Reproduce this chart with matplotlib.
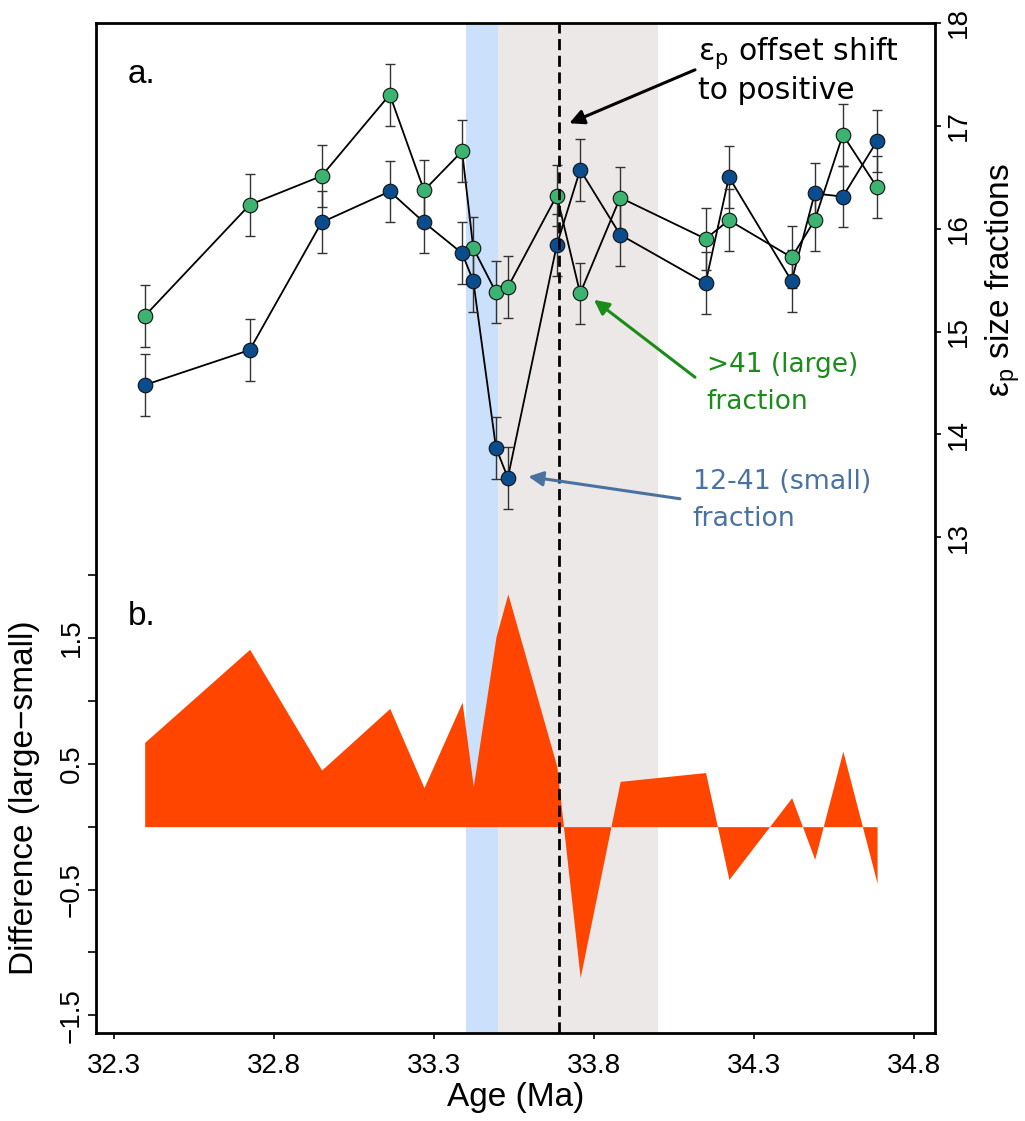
import matplotlib.pyplot as plt
import numpy as np

plt.rcParams['font.family'] = ['Liberation Sans', 'DejaVu Sans']
plt.rcParams['mathtext.fontset'] = 'custom'
plt.rcParams['mathtext.rm'] = 'Liberation Sans'

# sample ages (Ma) and epsilon_p of the two size fractions
age = [32.395, 32.723, 32.948, 33.161, 33.268, 33.387, 33.422, 33.493, 33.530,
       33.683, 33.756, 33.881, 34.148, 34.221, 34.417, 34.489, 34.577, 34.684]
eps_large = [15.15, 16.23, 16.51, 17.30, 16.37, 16.75, 15.81, 15.38, 15.43,
             16.32, 15.37, 16.30, 15.90, 16.08, 15.72, 16.08, 16.91, 16.40]
eps_small = [14.48, 14.82, 16.06, 16.36, 16.06, 15.76, 15.49, 13.87, 13.58,
             15.84, 16.57, 15.94, 15.47, 16.50, 15.49, 16.34, 16.31, 16.85]
eps_err = 0.3

# shaded intervals and the offset shift
blue_band = (33.4, 33.5)
grey_band = (33.5, 34.0)
shift_age = 33.69

xticks = [32.3, 32.8, 33.3, 33.8, 34.3, 34.8]
xticklabels = ['32.3', '32.8', '33.3', '33.8', '34.3', '34.8']
diff_ticks = [-1.5, -1.0, -0.5, 0.0, 0.5, 1.0, 1.5, 2.0]
diff_labels = ['\u22121.5', '', '\u22120.5', '', '0.5', '', '1.5', '']
eps_ticks = [13, 14, 15, 16, 17, 18]
eps_labels = ['13', '14', '15', '16', '17', '18']

green = '#3cb371'
navy = '#0b4c8c'
txt_green = '#1a8c1a'
txt_blue = '#4a72a0'

diff = np.array(eps_large) - np.array(eps_small)

fig = plt.figure(figsize=(10.25, 11.21), dpi=100)
ax = fig.add_axes([0.0934, 0.0788, 0.8191, 0.9011])
ax2 = ax.twinx()

ax.axvspan(*blue_band, color='#cae0fb', lw=0, zorder=0)
ax.axvspan(*grey_band, color='#ece8e7', lw=0, zorder=0)
ax.fill_between(age, 0, diff, color='#ff4500', lw=0, zorder=1)

ax.set_xlim(32.242, 34.866)
ax.set_ylim(-1.638, 6.393)
ax2.set_ylim(8.192, 17.995)

# panel a: the two fractions
for vals, col in [(eps_large, green), (eps_small, navy)]:
    ax2.plot(age, vals, color='black', lw=1.3, zorder=2)
    ax2.errorbar(age, vals, yerr=eps_err, fmt='none', ecolor='#333333',
                 elinewidth=1.0, capsize=3.5, capthick=1.0, zorder=2.5)
    ax2.plot(age, vals, 'o', ms=10.5, mfc=col, mec='#111111', mew=0.8, zorder=3)

ax2.axvline(shift_age, color='black', lw=2.0, ls=(0, (4, 2)), zorder=4)

ax2.text(32.343, 17.41, 'a.', fontsize=24, va='baseline')
ax.text(32.343, 1.603, 'b.', fontsize=24, va='baseline')

ann = dict(family='DejaVu Sans', ha='left', va='top')
ax2.annotate('', xy=(33.722, 17.022), xytext=(34.115, 17.541),
             arrowprops=dict(arrowstyle='-|>', color='black', lw=2.2,
                             mutation_scale=22, shrinkA=0, shrinkB=0), zorder=5)
ax2.text(34.125, 17.874, 'ε$_\\mathregular{p}$ offset shift\nto positive',
         color='black', fontsize=21.5, linespacing=1.2, **ann)

ax2.annotate('', xy=(33.799, 15.308), xytext=(34.115, 14.556),
             arrowprops=dict(arrowstyle='-|>', color=txt_green, lw=2.2,
                             mutation_scale=22, shrinkA=0, shrinkB=0), zorder=5)
ax2.text(34.152, 14.80, '>41 (large)\nfraction', color=txt_green,
         fontsize=19, linespacing=1.56, **ann)

ax2.annotate('', xy=(33.594, 13.592), xytext=(34.068, 13.376),
             arrowprops=dict(arrowstyle='-|>', color=txt_blue, lw=2.2,
                             mutation_scale=22, shrinkA=0, shrinkB=0), zorder=5)
ax2.text(34.108, 13.665, '12-41 (small)\nfraction', color=txt_blue,
         fontsize=19.3, linespacing=1.56, **ann)

# axes, ticks and labels
for sp in ax.spines.values():
    sp.set_linewidth(2.0)
for sp in ax2.spines.values():
    sp.set_visible(False)

ax.set_xticks(xticks)
ax.set_xticklabels(xticklabels)
ax.tick_params(axis='x', labelsize=20, length=4.5, width=1.2, pad=10)

ax.set_yticks(diff_ticks)
ax.set_yticklabels(diff_labels, rotation=90, va='center')
ax.tick_params(axis='y', labelsize=20, length=6, width=1.2, pad=2)

ax2.set_yticks(eps_ticks)
ax2.set_yticklabels(eps_labels, rotation=90, va='center')
ax2.tick_params(axis='y', labelsize=20, length=4.5, width=1.2, pad=3)

ax.set_xlabel('Age (Ma)', fontsize=24)
ax.xaxis.set_label_coords(0.5, -0.0488)
ax.set_ylabel('Difference (large\u2212small)', fontsize=24, va='center')
ax.yaxis.set_label_coords(-0.0854, 0.233)
ax2.set_ylabel('ε$_\\mathregular{p}$ size fractions', fontsize=24,
               rotation=90, va='center')
ax2.yaxis.set_label_coords(1.0806, 0.745)

fig.savefig('out.png', dpi=100)
